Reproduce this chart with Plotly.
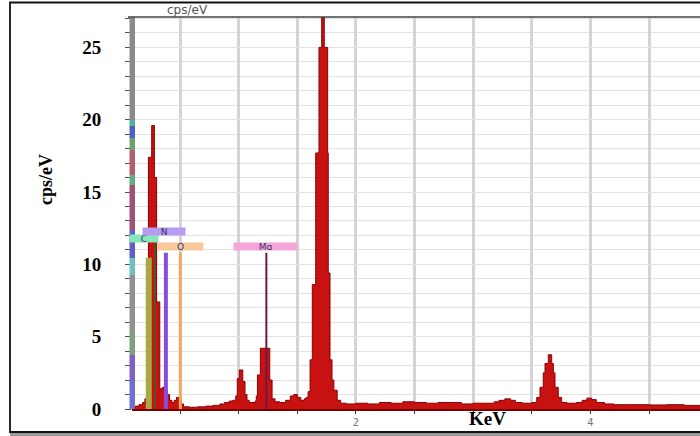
import plotly.graph_objects as go

# ---------------- data ----------------
energy_kev = [0.09, 0.12, 0.15, 0.18, 0.20, 0.215, 0.230, 0.258, 0.281, 0.300,
              0.327, 0.35, 0.37, 0.39, 0.41, 0.43, 0.45, 0.47, 0.49, 0.51,
              0.53, 0.58, 0.65, 0.72, 0.78, 0.84, 0.88, 0.92, 0.95, 0.975,
              0.988, 1.005, 1.035, 1.054, 1.071, 1.09, 1.12, 1.14, 1.150, 1.160,
              1.185, 1.265, 1.285, 1.31, 1.35, 1.40, 1.44, 1.47, 1.50, 1.53,
              1.56, 1.575, 1.592, 1.609, 1.628, 1.657, 1.685, 1.708, 1.730, 1.759,
              1.764, 1.779, 1.796, 1.812, 1.84, 1.87, 1.92, 2.0, 2.1, 2.2,
              2.3, 2.4, 2.5, 2.6, 2.7, 2.8, 2.9, 3.0, 3.1, 3.18,
              3.22, 3.27, 3.32, 3.36, 3.42, 3.50, 3.542, 3.570, 3.598, 3.613,
              3.641, 3.670, 3.684, 3.698, 3.726, 3.755, 3.80, 3.88, 3.93, 3.97,
              4.01, 4.05, 4.12, 4.2, 4.35, 4.5, 4.65, 4.8, 4.935]
counts_cps_ev = [0.15, 0.2, 0.3, 0.45, 0.7, 3.5, 17.4, 19.6, 16.0, 7.4,
                 1.4, 1.5, 1.3, 1.0, 0.6, 0.45, 0.6, 0.8, 0.7, 0.35,
                 0.15, 0.12, 0.15, 0.2, 0.25, 0.35, 0.45, 0.55, 0.6, 0.9,
                 2.1, 2.7, 1.9, 1.0, 0.6, 0.45, 0.45, 0.55, 0.9, 2.35,
                 4.2, 2.0, 0.7, 0.5, 0.45, 0.6, 0.9, 1.0, 0.8, 0.6,
                 0.7, 0.8, 1.2, 3.4, 8.6, 17.7, 25.0, 28.5, 25.0, 17.7,
                 9.4, 3.4, 2.0, 1.3, 0.6, 0.4, 0.35, 0.4, 0.35, 0.45,
                 0.4, 0.5, 0.45, 0.4, 0.45, 0.45, 0.35, 0.4, 0.4, 0.5,
                 0.6, 0.7, 0.6, 0.45, 0.4, 0.45, 0.8, 1.5, 2.5, 3.15,
                 3.75, 3.15, 2.5, 1.5, 0.8, 0.45, 0.4, 0.45, 0.6, 0.75,
                 0.65, 0.45, 0.35, 0.3, 0.3, 0.28, 0.3, 0.25, 0.25]

# element marker lines
elements = ["C", "N", "O", "Mg"]
element_kev = [0.233, 0.379, 0.502, 1.236]
element_line_top = [10.45, 10.8, 10.8, 10.8]
element_label_y = [11.76, 12.3, 11.2, 11.2]
element_label_x = [0.193, 0.365, 0.50, 1.23]
element_line_colors = ["#a8a844", "#8a4ce0", "#f2a860", "#6a1a4a"]
element_box_colors = ["#86e8b8", "#b89cf2", "#f8c89a", "#f4a6d8"]
element_box_widths = [28, 42, 45, 63]

y_tick_vals = [0, 5, 10, 15, 20, 25]
x_tick_vals = [0.5, 1.0, 1.5, 2.0, 2.5, 3.0, 3.5, 4.0, 4.5]
x_tick_text = ["", "", "", "2", "", "", "", "4", ""]

# ---------------- figure ----------------
W, H = 700, 436
ML, MR, MT, MB = 132, 0, 17, 27
PW, PH = W - ML - MR, H - MT - MB


def px(xp):
    return (xp - ML) / PW


def py(yp):
    return (H - MB - yp) / PH


fig = go.Figure()

fig.add_trace(go.Scatter(
    x=energy_kev, y=counts_cps_ev, mode="lines", line_shape="hv",
    fill="tozeroy", fillcolor="#c81212",
    line=dict(color="#8a0000", width=1), hoverinfo="skip", showlegend=False))

# dark green C marker
fig.add_trace(go.Scatter(x=[0.287, 0.287], y=[0, 11.9], mode="lines",
                         line=dict(color="#2f6a2f", width=1.5),
                         showlegend=False, hoverinfo="skip"))

line_widths = [6, 4, 3, 2]
for el, e, top, col, w in zip(elements, element_kev, element_line_top,
                              element_line_colors, line_widths):
    fig.add_trace(go.Scatter(x=[e, e], y=[0, top], mode="lines",
                             line=dict(color=col, width=w),
                             showlegend=False, hoverinfo="skip", name=el))

for el, lx, ly, bc, bw in zip(elements, element_label_x, element_label_y,
                              element_box_colors, element_box_widths):
    fig.add_annotation(x=lx, y=ly, xref="x", yref="y", text=el,
                       showarrow=False, bgcolor=bc, width=bw, height=7,
                       borderpad=0,
                       font=dict(family="DejaVu Sans", size=9, color="#333366"))

shapes = []
# coloured element strip along the y axis
strip = [(17, 120, "#8a8a8a"), (120, 126, "#50b0a0"), (126, 138, "#5060c0"),
         (138, 150, "#70a070"), (150, 175, "#b06070"), (175, 185, "#60b080"),
         (185, 230, "#a05070"), (230, 258, "#6060c0"), (258, 275, "#70c0c0"),
         (275, 330, "#909090"), (330, 355, "#80a080"), (355, 380, "#8060c0"),
         (380, 409, "#7070d0")]
for y0, y1, c in strip:
    shapes.append(dict(type="rect", xref="paper", yref="paper",
                       x0=px(129.5), x1=px(135), y0=py(y1), y1=py(y0),
                       fillcolor=c, line=dict(width=0), layer="above"))
# top border of plot
shapes.append(dict(type="line", xref="paper", yref="paper", x0=px(128), x1=1.01,
                   y0=1, y1=1, line=dict(color="#444444", width=1.5)))
# outer frame + shadow
shapes.append(dict(type="rect", xref="paper", yref="paper",
                   x0=px(10), x1=px(702), y0=py(433), y1=py(436.5),
                   fillcolor="#9a9a9a", line=dict(width=0)))
shapes.append(dict(type="rect", xref="paper", yref="paper",
                   x0=px(10), x1=px(703), y0=py(432), y1=py(2.5),
                   line=dict(color="#111111", width=1.8)))

fig.update_layout(
    width=W, height=H, margin=dict(l=ML, r=MR, t=MT, b=MB),
    paper_bgcolor="white", plot_bgcolor="white", shapes=shapes,
    showlegend=False,
    xaxis=dict(range=[0.09, 4.935], tickmode="array", tickvals=x_tick_vals,
               ticktext=x_tick_text, showgrid=True, gridcolor="#d4d4d4",
               gridwidth=2.5, ticks="outside", ticklen=3, tickcolor="#333",
               tickfont=dict(family="DejaVu Sans", size=10, color="#777"),
               showline=True, linecolor="#7a0000", linewidth=1.5,
               zeroline=False, fixedrange=True),
    yaxis=dict(range=[0, 27.1], tickmode="array", tickvals=y_tick_vals,
               ticks="outside", ticklen=6, tickcolor="#555",
               ticklabelstandoff=20,
               tickfont=dict(family="Liberation Serif", size=19, color="black",
                             weight="bold"),
               showgrid=True, gridcolor="#e2e2e2", gridwidth=1,
               minor=dict(dtick=1, showgrid=True, gridcolor="#e2e2e2",
                          ticks="outside", ticklen=6, tickcolor="#555"),
               zeroline=False, showline=False, fixedrange=True),
)

fig.add_annotation(x=px(46), y=py(180), xref="paper", yref="paper",
                   xanchor="center", yanchor="middle",
                   text="<b>cps/eV</b>", textangle=-90, showarrow=False,
                   font=dict(family="Liberation Serif", size=18, color="black"))
fig.add_annotation(x=px(487), y=py(418), xref="paper", yref="paper",
                   xanchor="center", yanchor="middle",
                   text="<b>KeV</b>", showarrow=False,
                   font=dict(family="Liberation Serif", size=19, color="black"))
fig.add_annotation(x=px(187), y=py(10), xref="paper", yref="paper",
                   xanchor="center", yanchor="middle",
                   text="cps/eV", showarrow=False,
                   font=dict(family="DejaVu Sans", size=12, color="#555555"))

fig.write_html("out.html", config={"displayModeBar": False},
               post_script="document.body.style.margin='0';"
                           "document.body.style.overflow='hidden';")
